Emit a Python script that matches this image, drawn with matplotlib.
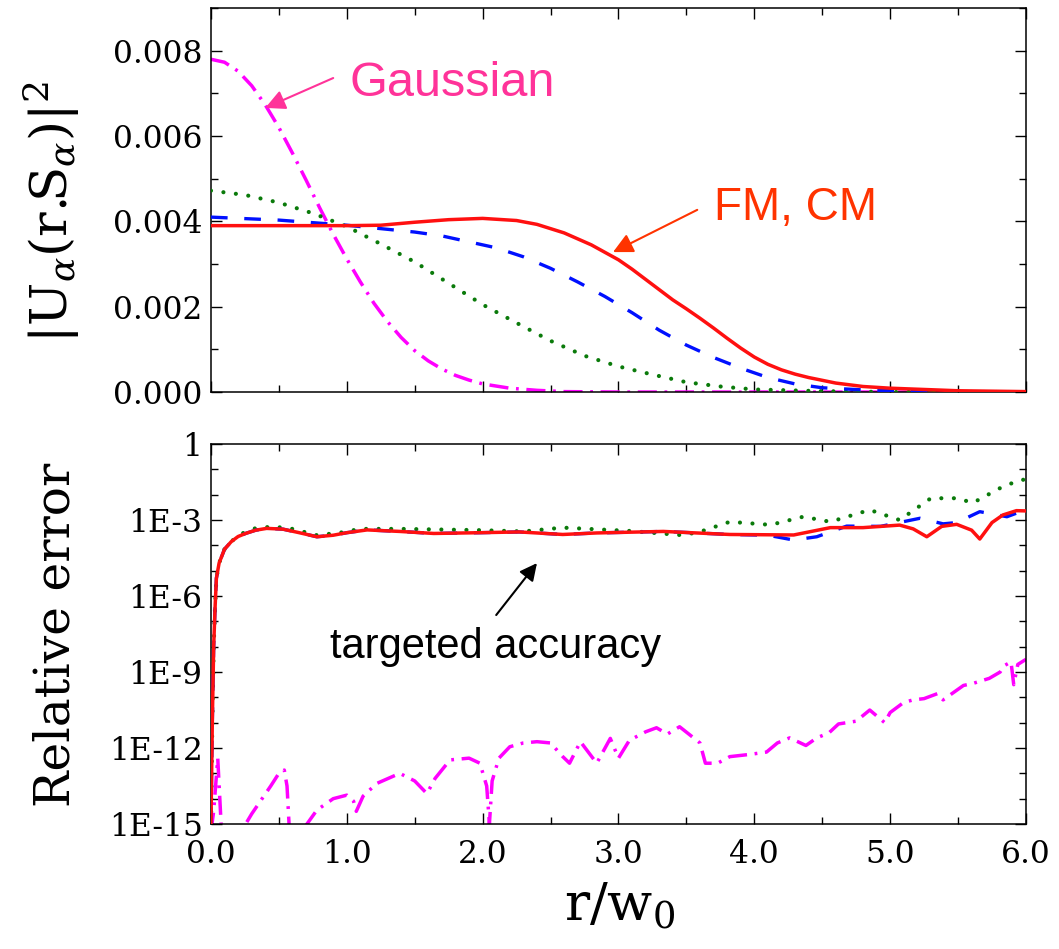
"""
Two-panel figure: beam intensity profiles |U(r.S)|^2 (top) and
relative error on a log scale (bottom), both against r/w0.
"""
import matplotlib
matplotlib.use("Agg")
import matplotlib.pyplot as plt
import numpy as np
from matplotlib.ticker import FixedLocator, MultipleLocator, FormatStrFormatter

plt.rcParams["mathtext.fontset"] = "dejavuserif"

# ---- top panel: intensity profiles ------------------------------------
gauss_r = [0.0, 0.1, 0.2, 0.3, 0.4, 0.5, 0.6, 0.7, 0.8, 0.9, 1.0, 1.1, 1.2, 1.3,
           1.4, 1.5, 1.6, 1.7, 1.8, 1.9, 2.0, 2.2, 2.4, 2.6, 3.0, 6.0]
gauss_i = [0.00780, 0.00773, 0.00752, 0.00718, 0.00673, 0.00620, 0.00560, 0.00497,
           0.00432, 0.00370, 0.00312, 0.00258, 0.00208, 0.00165, 0.00128, 0.00097,
           0.00073, 0.00054, 0.00039, 0.00028, 0.00019, 0.00009, 0.00004, 0.00001,
           0.0, 0.0]

red_r = [0.0, 0.5, 1.0, 1.25, 1.5, 1.75, 2.0, 2.25, 2.4, 2.6, 2.8, 3.0, 3.1, 3.2,
         3.3, 3.4, 3.5, 3.6, 3.7, 3.8, 3.9, 4.0, 4.1, 4.2, 4.3, 4.4, 4.6, 4.8, 5.0,
         5.5, 6.0]
red_i = [0.00390, 0.00390, 0.00390, 0.00391, 0.00398, 0.00404, 0.00407, 0.00402,
         0.00393, 0.00373, 0.00345, 0.00310, 0.00288, 0.00264, 0.00240, 0.00216,
         0.00195, 0.00173, 0.00150, 0.00126, 0.00103, 0.00082, 0.00065, 0.00052,
         0.00042, 0.00034, 0.00021, 0.00013, 0.00009, 0.00003, 0.00001]

blue_r = [0.0, 0.5, 1.0, 1.25, 1.5, 1.7, 1.9, 2.1, 2.3, 2.5, 2.7, 2.9, 3.1, 3.3,
          3.5, 3.7, 3.9, 4.1, 4.3, 4.5, 4.8, 5.2, 6.0]
blue_i = [0.00410, 0.00403, 0.00391, 0.00383, 0.00375, 0.00366, 0.00352, 0.00338,
          0.00317, 0.00290, 0.00258, 0.00224, 0.00186, 0.00145, 0.00110, 0.00081,
          0.00056, 0.00034, 0.00019, 0.00010, 0.00005, 0.00002, 0.0]

green_r = [0.0, 0.25, 0.5, 0.75, 1.0, 1.25, 1.5, 1.75, 2.0, 2.25, 2.5, 2.75, 3.0,
           3.25, 3.5, 3.75, 4.0, 4.5, 5.0, 6.0]
green_i = [0.00472, 0.00462, 0.00444, 0.00419, 0.00388, 0.00347, 0.00305, 0.00255,
           0.00205, 0.00162, 0.00120, 0.00085, 0.00060, 0.00041, 0.00023, 0.00013,
           0.00006, 0.00002, 0.0, 0.0]

# ---- bottom panel: log10 of relative error ---------------------------
err_red_r = [0.0, 0.01, 0.02, 0.03, 0.04, 0.06, 0.1, 0.15, 0.2, 0.26, 0.33, 0.41,
             0.53, 0.65, 0.78, 0.9, 1.0, 1.15, 1.39, 1.64, 1.98, 2.27, 2.59, 2.84,
             3.33, 3.82, 4.29, 4.56, 4.8, 5.07, 5.17, 5.27, 5.38, 5.49, 5.6, 5.66,
             5.75, 5.83, 5.93, 6.0]
err_red_log = [-15.0, -11.0, -8.0, -6.5, -5.3, -4.7, -4.15, -3.85, -3.65, -3.52,
               -3.4, -3.33, -3.36, -3.5, -3.66, -3.6, -3.5, -3.39, -3.45, -3.53,
               -3.5, -3.47, -3.57, -3.51, -3.45, -3.57, -3.59, -3.3, -3.3, -3.2,
               -3.35, -3.66, -3.25, -3.17, -3.4, -3.75, -3.1, -2.8, -2.63, -2.64]

err_blue_r = [0.0, 0.01, 0.02, 0.03, 0.04, 0.06, 0.1, 0.15, 0.2, 0.26, 0.33, 0.41,
              0.53, 0.65, 0.78, 0.9, 1.0, 1.15, 1.39, 1.64, 1.98, 2.27, 2.59, 2.84,
              3.33, 3.82, 4.1, 4.29, 4.46, 4.68, 4.93, 5.22, 5.39, 5.49, 5.66, 5.86,
              5.93, 6.0]
err_blue_log = [-15.0, -11.0, -8.0, -6.5, -5.3, -4.7, -4.15, -3.85, -3.65, -3.52,
                -3.4, -3.33, -3.36, -3.5, -3.66, -3.6, -3.5, -3.39, -3.45, -3.53,
                -3.5, -3.47, -3.57, -3.51, -3.45, -3.57, -3.6, -3.79, -3.66, -3.24,
                -3.25, -2.93, -3.15, -3.1, -2.67, -2.87, -2.73, -2.75]

err_green_r = [0.0, 0.01, 0.02, 0.03, 0.04, 0.06, 0.1, 0.15, 0.2, 0.26, 0.33, 0.46,
               0.6, 0.78, 0.95, 1.1, 1.4, 1.98, 2.3, 2.59, 3.08, 3.45, 3.58, 3.82,
               4.12, 4.36, 4.56, 4.85, 5.07, 5.3, 5.49, 5.61, 5.83, 5.96, 6.0]
err_green_log = [-15.0, -11.0, -8.0, -6.5, -5.3, -4.7, -4.15, -3.85, -3.62, -3.45,
                 -3.32, -3.26, -3.35, -3.6, -3.5, -3.35, -3.35, -3.4, -3.45, -3.3,
                 -3.43, -3.59, -3.5, -3.07, -3.19, -2.87, -3.07, -2.6, -3.0, -2.14,
                 -2.14, -2.32, -1.68, -1.42, -1.4]

err_gauss_r = [0.0, 0.02, 0.05, 0.07, 0.08, 0.12, 0.2, 0.3, 0.44, 0.5, 0.54, 0.56,
               0.58, 0.68, 0.78, 0.9, 1.0, 1.05, 1.07, 1.12, 1.22, 1.39, 1.5, 1.59,
               1.65, 1.76, 1.9, 1.98, 2.03, 2.05, 2.07, 2.12, 2.2, 2.3, 2.4, 2.5,
               2.59, 2.64, 2.72, 2.84, 2.94, 3.0, 3.08, 3.2, 3.28, 3.36, 3.45, 3.53,
               3.6, 3.64, 3.73, 3.82, 3.97, 4.09, 4.17, 4.26, 4.38, 4.46, 4.55, 4.62,
               4.75, 4.85, 4.96, 5.0, 5.1, 5.17, 5.25, 5.35, 5.39, 5.54, 5.61, 5.73,
               5.81, 5.84, 5.89, 5.91, 5.94, 6.0]
err_gauss_log = [-15.3, -14.5, -12.4, -14.5, -15.5, -15.5, -15.5, -14.6, -13.5, -13.0,
                 -12.87, -13.5, -15.5, -15.2, -14.45, -14.0, -13.86, -14.1, -14.5,
                 -13.9, -13.4, -13.0, -13.3, -13.8, -13.2, -12.47, -12.4, -12.6,
                 -13.5, -15.0, -13.3, -12.4, -11.95, -11.8, -11.75, -11.8, -12.34,
                 -12.6, -11.75, -12.6, -11.62, -12.4, -11.7, -11.36, -11.2, -11.45,
                 -11.16, -11.5, -11.8, -12.6, -12.6, -12.34, -12.25, -12.16, -11.8,
                 -11.6, -11.9, -11.6, -11.4, -11.05, -10.94, -10.5, -11.0, -10.6,
                 -10.2, -10.1, -10.05, -9.85, -10.1, -9.53, -9.45, -9.25, -9.0,
                 -8.75, -8.6, -9.5, -8.7, -8.5]

x_ticks = [0, 1, 2, 3, 4, 5, 6]
x_ticklabels = ["0.0", "1.0", "2.0", "3.0", "4.0", "5.0", "6.0"]
err_ticks = [1e-15, 1e-12, 1e-9, 1e-6, 1e-3, 1]
err_ticklabels = ["1E-15", "1E-12", "1E-9", "1E-6", "1E-3", "1"]

# colours / styles
c_red = "#ff1010"
c_blue = "#0010ff"
c_green = "#0a7a0a"
c_mag = "#ff00ff"

serif = "DejaVu Serif"
sans = "Liberation Sans"

fig = plt.figure(figsize=(10.59, 9.49), dpi=100)
ax1 = fig.add_axes([0.1992, 0.5869, 0.7696, 0.4046])
ax2 = fig.add_axes([0.1992, 0.1317, 0.7696, 0.4004])


def style_axes(ax):
    for s in ax.spines.values():
        s.set_linewidth(1.1)
    ax.tick_params(which="both", direction="in", top=True, right=True,
                   labelsize=22.5, pad=6)
    ax.tick_params(axis="x", which="both", pad=11)
    ax.tick_params(which="major", length=8, width=1.0)
    ax.tick_params(which="minor", length=5, width=1.0)
    for lab in ax.get_xticklabels() + ax.get_yticklabels():
        lab.set_family(serif)


def draw(ax, x, y, kind):
    if kind == "red":
        ax.plot(x, y, color=c_red, lw=2.5, zorder=5)
    elif kind == "blue":
        ax.plot(x, y, color=c_blue, lw=2.4, dashes=(5.0, 5.0), zorder=4)
    elif kind == "green":
        ax.plot(x, y, color=c_green, lw=3.0, dashes=(0.01, 3.0),
                dash_capstyle="round", zorder=3)
    else:
        ax.plot(x, y, color=c_mag, lw=2.5, dashes=(5.5, 2.2, 0.8, 2.2),
                zorder=2)


# top panel
draw(ax1, gauss_r, gauss_i, "mag")
draw(ax1, green_r, green_i, "green")
draw(ax1, blue_r, blue_i, "blue")
draw(ax1, red_r, red_i, "red")
ax1.set_xlim(0, 6)
ax1.set_ylim(0, 0.009)
ax1.xaxis.set_major_locator(FixedLocator(x_ticks))
ax1.xaxis.set_minor_locator(MultipleLocator(0.5))
ax1.yaxis.set_major_locator(FixedLocator([0.0, 0.002, 0.004, 0.006, 0.008]))
ax1.yaxis.set_minor_locator(MultipleLocator(0.001))
ax1.yaxis.set_major_formatter(FormatStrFormatter("%.3f"))
ax1.set_xticklabels([])
style_axes(ax1)

ax1.annotate("", xy=(0.40, 0.00666), xytext=(0.90, 0.00736),
             arrowprops=dict(arrowstyle="-|>", color="#ff3399", lw=1.5,
                             mutation_scale=30, shrinkA=0, shrinkB=0))
ax1.text(1.02, 0.00724, "Gaussian", color="#ff3399", fontsize=35,
         family=sans, ha="left", va="center")
ax1.annotate("", xy=(2.96, 0.00328), xytext=(3.58, 0.00427),
             arrowprops=dict(arrowstyle="-|>", color="#ff3300", lw=1.5,
                             mutation_scale=30, shrinkA=0, shrinkB=0))
ax1.text(3.70, 0.00432, "FM, CM", color="#ff3300", fontsize=33,
         family=sans, ha="left", va="center")

# bottom panel
draw(ax2, err_gauss_r, np.power(10.0, err_gauss_log), "mag")
draw(ax2, err_green_r, np.power(10.0, err_green_log), "green")
draw(ax2, err_blue_r, np.power(10.0, err_blue_log), "blue")
draw(ax2, err_red_r, np.power(10.0, err_red_log), "red")
ax2.set_yscale("log")
ax2.set_xlim(0, 6)
ax2.set_ylim(1e-15, 1)
ax2.xaxis.set_major_locator(FixedLocator(x_ticks))
ax2.xaxis.set_minor_locator(MultipleLocator(0.5))
ax2.set_xticklabels(x_ticklabels)
ax2.yaxis.set_major_locator(FixedLocator(err_ticks))
ax2.yaxis.set_minor_locator(FixedLocator([10.0 ** -k for k in range(16)]))
ax2.yaxis.set_minor_formatter(plt.NullFormatter())
ax2.set_yticklabels(err_ticklabels)
style_axes(ax2)

ax2.annotate("", xy=(2.40, 10 ** -4.70), xytext=(2.10, 10 ** -6.75),
             arrowprops=dict(arrowstyle="-|>", color="black", lw=1.5,
                             mutation_scale=26, shrinkA=0, shrinkB=0))
ax2.text(0.88, 1e-8, "targeted accuracy", color="black", fontsize=30,
         family=sans, ha="left", va="center")

# axis titles
fig.text(0.049, 1 - 212 / 949,
         r"$|\mathrm{U}_{\alpha}(\mathrm{r}.\!\!\mathrm{S}_{\alpha})|^{2}$",
         rotation=90, ha="center", va="center", fontsize=37)
fig.text(0.053, 1 - 635 / 949, "Relative error", family=serif, rotation=90,
         ha="center", va="center", fontsize=35)
fig.text(620 / 1059, 1 - 905 / 949, r"$\mathrm{r/w_{0}}$", ha="center",
         va="center", fontsize=38)

fig.savefig("out.png", dpi=100)
